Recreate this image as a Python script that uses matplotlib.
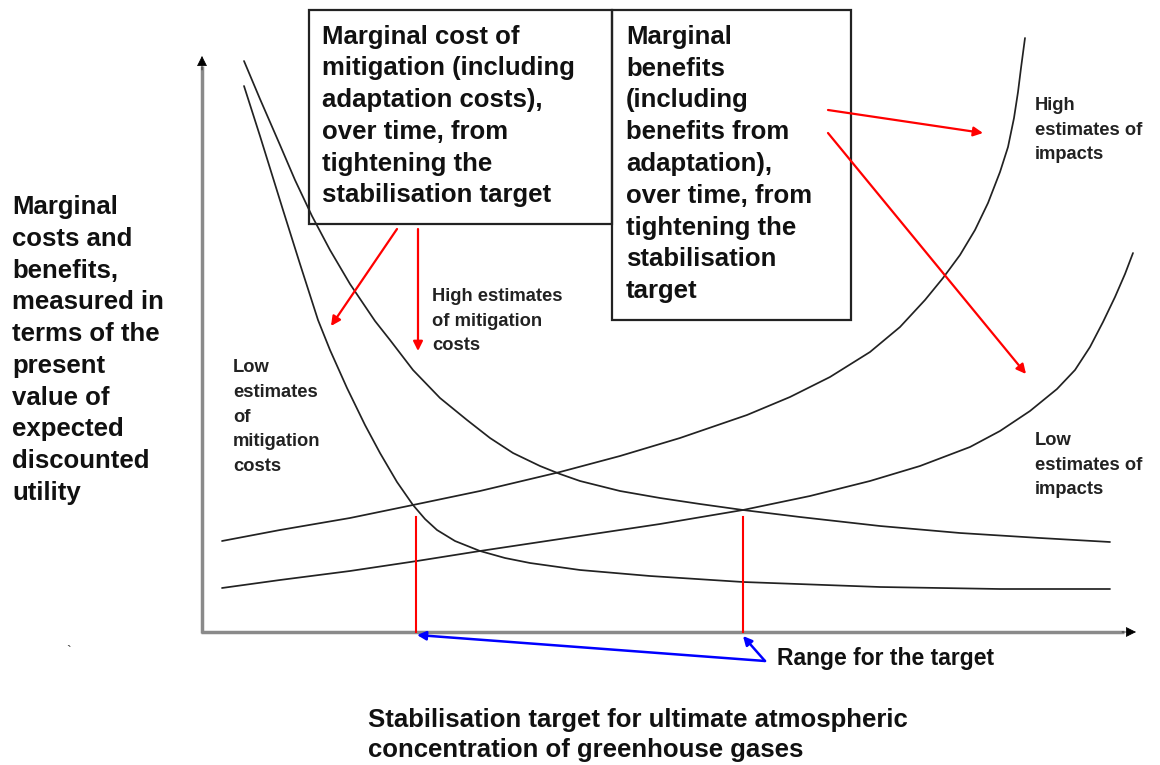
import matplotlib
matplotlib.use("Agg")
import matplotlib.pyplot as plt

plt.rcParams['font.family'] = ['Liberation Sans', 'DejaVu Sans']

# --- curves (x, y in picture units, y grows downward) ---
# marginal cost of mitigation, high estimates
mit_high_x = [244, 260, 280, 295, 312, 330, 350, 375, 390, 413, 440, 467, 490, 513, 540, 560,
              580, 620, 660, 700, 743, 800, 880, 960, 1040, 1110]
mit_high_y = [61, 99, 145, 180, 216, 250, 284, 321, 340, 370, 398, 420, 438, 453, 466, 474,
              481, 491, 498, 504, 510, 517, 526, 533, 538, 542]

# marginal cost of mitigation, low estimates
mit_low_x = [244, 260, 283, 300, 318, 330, 347, 365, 380, 397, 413, 425, 437, 455, 480, 505,
             530, 580, 650, 743, 880, 1000, 1110]
mit_low_y = [86, 136, 210, 264, 320, 350, 388, 425, 453, 482, 505, 519, 530, 541, 551, 558,
             563, 570, 576, 582, 587, 589, 589]

# marginal benefits, high estimates of impacts
imp_high_x = [222, 280, 350, 413, 480, 560, 620, 680, 747, 790, 830, 870, 900, 925, 943, 960,
              975, 988, 1000, 1008, 1014, 1018, 1021, 1025]
imp_high_y = [541, 530, 518, 505, 491, 472, 456, 438, 415, 397, 377, 352, 327, 300, 278, 255,
              230, 203, 172, 147, 118, 92, 68, 38]

# marginal benefits, low estimates of impacts
imp_low_x = [222, 280, 350, 417, 480, 580, 660, 743, 810, 870, 920, 970, 1000, 1030, 1057,
             1075, 1090, 1103, 1115, 1125, 1133]
imp_low_y = [588, 580, 571, 561, 551, 536, 524, 510, 496, 481, 466, 447, 431, 411, 389,
             370, 347, 322, 297, 274, 253]

range_low_x = 416
range_high_x = 743

box_cost_text = ("Marginal cost of\nmitigation (including\nadaptation costs),\n"
                 "over time, from\ntightening the\nstabilisation target")
box_benefit_text = ("Marginal\nbenefits\n(including\nbenefits from\nadaptation),\n"
                    "over time, from\ntightening the\nstabilisation\ntarget")
ylabel_text = ("Marginal\ncosts and\nbenefits,\nmeasured in\nterms of the\npresent\n"
               "value of\nexpected\ndiscounted\nutility")
xlabel_text = ("Stabilisation target for ultimate atmospheric\n"
               "concentration of greenhouse gases")

fig = plt.figure(figsize=(11.6, 7.65), dpi=100, facecolor='white')
ax = fig.add_axes([0, 0, 1, 1])
ax.set_xlim(0, 1160)
ax.set_ylim(765, 0)
ax.axis('off')

# axes: grey shafts with small black heads
ax.plot([202, 202], [633, 66], color='#8a8a8a', lw=2.5, solid_capstyle='butt')
ax.plot([201, 1124], [632, 632], color='#8a8a8a', lw=2.5, solid_capstyle='butt')
head = dict(arrowstyle='-|>', color='k', lw=0.5, mutation_scale=16,
            shrinkA=0, shrinkB=0)
ax.annotate('', xy=(202, 56), xytext=(202, 70), arrowprops=head)
ax.annotate('', xy=(1136, 632), xytext=(1122, 632), arrowprops=head)

# curves
for xs, ys in [(mit_high_x, mit_high_y), (mit_low_x, mit_low_y),
               (imp_high_x, imp_high_y), (imp_low_x, imp_low_y)]:
    ax.plot(xs, ys, color='#222222', lw=1.25, solid_capstyle='round',
            solid_joinstyle='round')

# range verticals
ax.plot([range_low_x, range_low_x], [517, 632], color='red', lw=1.5)
ax.plot([range_high_x, range_high_x], [517, 632], color='red', lw=1.5)

# boxes
ax.add_patch(plt.Rectangle((309, 10), 303, 214, fill=False, ec='#222222', lw=1.6))
ax.add_patch(plt.Rectangle((612, 10), 239, 310, fill=False, ec='#222222', lw=1.6))

big = dict(fontsize=18.5, fontweight='bold', va='center', ha='left',
           linespacing=1.41, color='#111111')
ax.text(322, 116, box_cost_text, **big)
ax.text(626, 164, box_benefit_text, **big)
ax.text(12, 350, ylabel_text, **big)
ax.text(368, 735, xlabel_text, fontsize=18.5, fontweight='bold', va='center',
        ha='left', linespacing=1.33, color='#111111')

small = dict(fontsize=13.2, fontweight='bold', va='center', ha='left',
             linespacing=1.58, color='#222222')
ax.text(432, 321, "High estimates\nof mitigation\ncosts", **small)
ax.text(233, 417, "Low\nestimates\nof\nmitigation\ncosts", **small)
ax.text(1035, 130, "High\nestimates of\nimpacts", **small)
ax.text(1035, 465, "Low\nestimates of\nimpacts", **small)
ax.text(777, 659, "Range for the target", fontsize=16.5, fontweight='bold',
        va='center', ha='left', color='#111111')
ax.text(66, 652, "`", fontsize=10, va='center', ha='left', color='#333333')

# red pointer arrows
red = dict(arrowstyle='-|>', color='red', lw=1.6, mutation_scale=14,
           shrinkA=0, shrinkB=0)
ax.annotate('', xy=(331, 326), xytext=(397, 229), arrowprops=red)
ax.annotate('', xy=(418, 351), xytext=(418, 229), arrowprops=red)
ax.annotate('', xy=(983, 133), xytext=(828, 110), arrowprops=red)
ax.annotate('', xy=(1026, 374), xytext=(828, 133), arrowprops=red)

# blue range arrows
blue = dict(arrowstyle='-|>', color='blue', lw=1.8, mutation_scale=13,
            shrinkA=0, shrinkB=0)
ax.annotate('', xy=(417, 635), xytext=(765, 661), arrowprops=blue)
ax.annotate('', xy=(743, 636), xytext=(765, 661), arrowprops=blue)

fig.savefig('out.png', dpi=100, facecolor='white')
